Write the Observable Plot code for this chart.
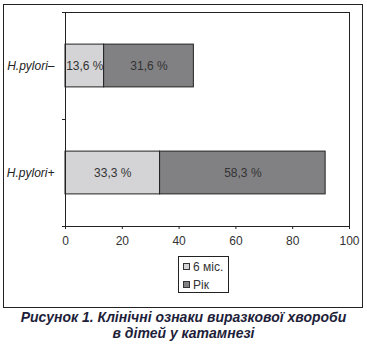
<!DOCTYPE html>
<html>
<head>
<meta charset="utf-8">
<script src="https://cdn.jsdelivr.net/npm/d3@7"></script>
<script src="https://cdn.jsdelivr.net/npm/@observablehq/plot@0.6"></script>
<style>
  html, body { margin: 0; padding: 0; background: #fff; }
  #wrap { position: relative; width: 367px; height: 344px; font-family: "Liberation Sans", Arial, sans-serif; }
  #frame { position: absolute; left: 3px; top: 4px; width: 358px; height: 302px; border: 1px solid #222; box-sizing: content-box; pointer-events: none; }
  #chart { position: absolute; left: 0; top: 0; }
  #legend { position: absolute; left: 178px; top: 256px; width: 49px; height: 35px; border: 1px solid #222; font-size: 12px; color: #333; }
  .item { position: absolute; left: 4px; height: 14px; line-height: 14px; white-space: nowrap; }
  .sw { display: inline-block; width: 5px; height: 5px; border: 1px solid #333; margin-right: 3px; vertical-align: 1px; }
  #caption { position: absolute; left: 0; top: 309px; width: 367px; text-align: center; font-weight: bold; font-style: italic; font-size: 14px; line-height: 16px; color: #1e1e3a; }
</style>
</head>
<body>
<div id="wrap">
  <div id="chart"></div>
  <div id="frame"></div>
  <div id="legend"></div>
  <div id="caption">Рисунок 1. Клінічні ознаки виразкової хвороби<br>в дітей у катамнезі</div>
</div>
<script>
const categories = ["H.pylori–", "H.pylori+"];
const seriesNames = ["6 міс.", "Рік"];
const sixMonths = [13.6, 33.3];
const year = [31.6, 58.3];
const xTicks = [0, 20, 40, 60, 80, 100];
const colors = ["#d4d4d6", "#818184"];

const rows = [];
categories.forEach((c, i) => {
  const vals = [sixMonths[i], year[i]];
  const ends = d3.cumsum(vals);
  vals.forEach((v, j) => {
    rows.push({cat: c, idx: i, series: seriesNames[j], value: v, x1: ends[j] - v, x2: ends[j]});
  });
});
const fmt = v => v.toFixed(1).replace(".", ",") + " %";

const chart = Plot.plot({
  width: 367,
  height: 250,
  marginLeft: 65,
  marginRight: 18,
  marginTop: 12,
  marginBottom: 24,
  style: {fontFamily: "'Liberation Sans', Arial, sans-serif", fontSize: "12px", color: "#333", background: "transparent"},
  x: {domain: [0, 100]},
  y: {domain: [0, 2], reverse: true},
  color: {domain: seriesNames, range: colors},
  marks: [
    Plot.rectX(rows, {x1: "x1", x2: "x2", y1: d => d.idx + 0.3, y2: d => d.idx + 0.7, fill: "series", stroke: "#222", strokeWidth: 1}),
    Plot.text(rows, {x: d => (d.x1 + d.x2) / 2, y: d => d.idx + 0.5, text: d => fmt(d.value), fill: "#333", fontSize: 12}),
    Plot.frame({stroke: "#222", strokeWidth: 1}),
    Plot.axisX({ticks: xTicks, tickSize: 3, tickPadding: 7, tickFormat: d => d, label: null, stroke: "#222", fill: "#333", fontSize: 12}),
    Plot.axisY({ticks: [0, 1, 2], tickSize: 3, tickFormat: () => "", label: null, stroke: "#222"}),
    Plot.axisY({ticks: categories.map((c, i) => i + 0.5), tickSize: 0, tickPadding: 11, tickFormat: d => categories[Math.floor(d)], label: null, fontStyle: "italic", fill: "#222", fontSize: 12})
  ]
});
document.getElementById("chart").appendChild(chart);

const legend = document.getElementById("legend");
seriesNames.forEach((s, j) => {
  const it = document.createElement("div");
  it.className = "item";
  it.style.top = (3 + j * 18) + "px";
  it.innerHTML = `<span class="sw" style="background:${colors[j]}"></span>${s}`;
  legend.appendChild(it);
});
</script>
</body>
</html>
